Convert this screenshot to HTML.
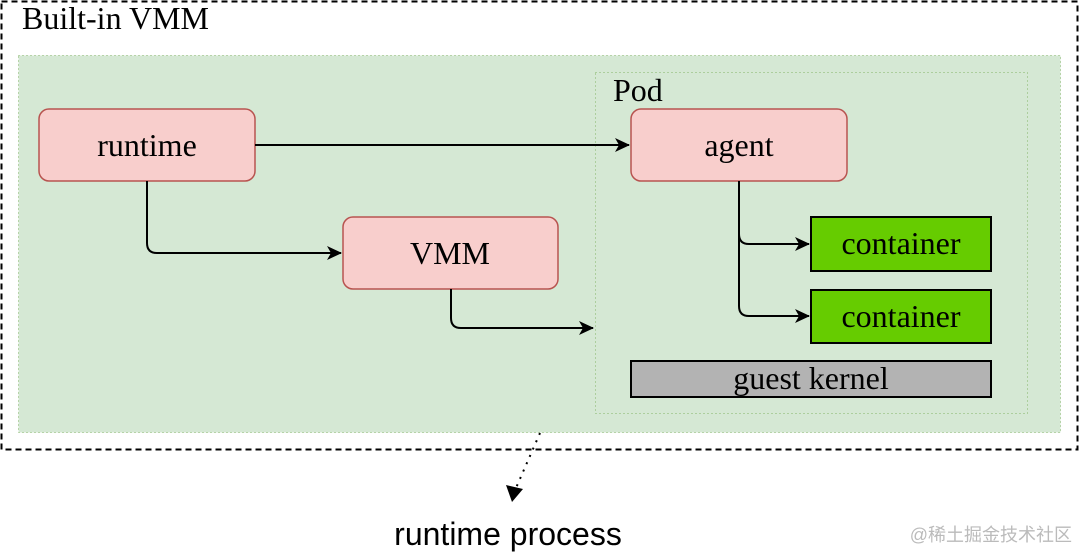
<!DOCTYPE html>
<html><head><meta charset="utf-8"><style>
html,body{margin:0;padding:0;background:#fff;width:1080px;height:560px;overflow:hidden}
svg{display:block}
.s{font-family:"Liberation Serif",serif;fill:#000}
</style></head><body>
<svg width="1080" height="560" viewBox="0 0 1080 560" xmlns="http://www.w3.org/2000/svg">
<defs>
<marker id="a" markerWidth="16" markerHeight="16" refX="14" refY="8" orient="auto" markerUnits="userSpaceOnUse">
<path d="M0,1 L15,8 L0,15 L4,8 Z" fill="#000"/></marker>
</defs>
<rect x="1.5" y="1.5" width="1076" height="448" fill="#fff" stroke="#000" stroke-width="2" stroke-dasharray="6,4"/>
<text x="22" y="29" class="s" font-size="32">Built-in VMM</text>
<rect x="18.5" y="55.5" width="1042" height="377" fill="#d5e8d4" stroke="#82b366" stroke-dasharray="1,3"/>
<rect x="595.5" y="72.5" width="432" height="341" fill="none" stroke="#82b366" stroke-dasharray="1,3"/>
<text x="613" y="101" class="s" font-size="32">Pod</text>
<rect x="39" y="109" width="216" height="72" rx="10" fill="#f8cecc" stroke="#b85450" stroke-width="1.5"/>
<text x="147" y="156" class="s" font-size="32" text-anchor="middle">runtime</text>
<rect x="343" y="217" width="215" height="72" rx="10" fill="#f8cecc" stroke="#b85450" stroke-width="1.5"/>
<text x="450" y="264" class="s" font-size="32" text-anchor="middle">VMM</text>
<rect x="631" y="109" width="216" height="72" rx="10" fill="#f8cecc" stroke="#b85450" stroke-width="1.5"/>
<text x="739" y="156" class="s" font-size="32" text-anchor="middle">agent</text>
<rect x="811" y="217" width="180" height="54" fill="#66cc00" stroke="#000" stroke-width="2"/>
<text x="901" y="254" class="s" font-size="32" text-anchor="middle">container</text>
<rect x="811" y="290" width="180" height="53" fill="#66cc00" stroke="#000" stroke-width="2"/>
<text x="901" y="327" class="s" font-size="32" text-anchor="middle">container</text>
<rect x="631" y="361" width="360" height="36" fill="#b3b3b3" stroke="#000" stroke-width="2"/>
<text x="811" y="389" class="s" font-size="32" text-anchor="middle">guest kernel</text>
<g fill="none" stroke="#000" stroke-width="2">
<path d="M255,145 H629" marker-end="url(#a)"/>
<path d="M147,181 V243 Q147,253 157,253 H341" marker-end="url(#a)"/>
<path d="M451,289 V318 Q451,328 461,328 H593" marker-end="url(#a)"/>
<path d="M739,181 V234 Q739,244 749,244 H809" marker-end="url(#a)"/>
<path d="M739,234 V306 Q739,316 749,316 H809" marker-end="url(#a)"/>
<path d="M540,433 L516,488" stroke-dasharray="2,6"/>
</g>
<path d="M506,485 L512,502 L523,489 Z" fill="#000"/>
<text x="508" y="545" font-family="Liberation Sans,sans-serif" font-size="32" text-anchor="middle" fill="#000">runtime process</text>
<text x="1072" y="541" font-family="Liberation Sans,'Noto Sans CJK SC',sans-serif" font-size="18" text-anchor="end" fill="#bbb">@稀土掘金技术社区</text>
</svg>
</body></html>
